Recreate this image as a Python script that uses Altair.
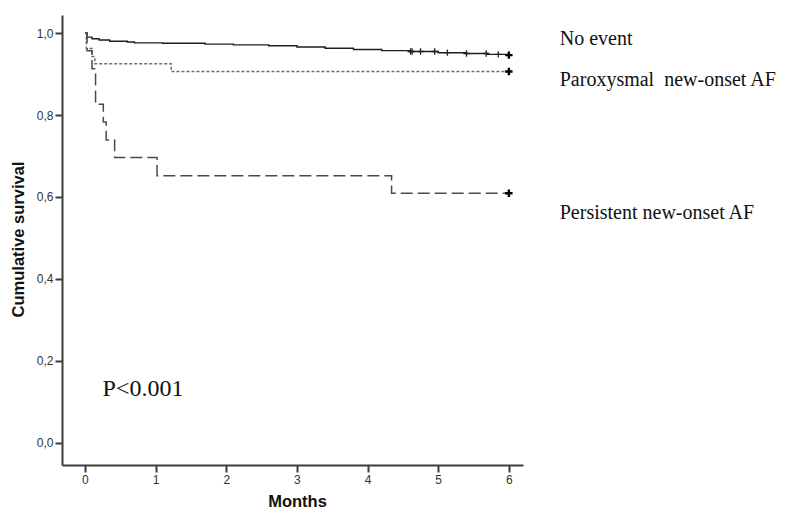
import altair as alt
import pandas as pd

# ---- data ----
no_event_t = [0.0, 0.03, 0.10, 0.20, 0.35, 0.60, 0.70, 1.10, 1.70, 2.10, 2.60, 3.00, 3.40, 3.80, 4.20, 4.60, 5.00, 5.40, 5.70, 6.00]
no_event_s = [1.000, 0.990, 0.986, 0.983, 0.980, 0.978, 0.976, 0.975, 0.973, 0.971, 0.969, 0.966, 0.963, 0.960, 0.957, 0.955, 0.952, 0.950, 0.948, 0.946]
no_event_cens = [4.61, 4.63, 4.75, 4.95, 5.13, 5.40, 5.68, 5.85]

parox_t = [0.0, 0.02, 0.10, 0.14, 1.22, 6.00]
parox_s = [1.000, 0.962, 0.943, 0.925, 0.906, 0.906]

persist_t = [0.0, 0.03, 0.10, 0.15, 0.26, 0.30, 0.42, 1.02, 4.34, 6.00]
persist_s = [1.000, 0.957, 0.913, 0.826, 0.783, 0.739, 0.696, 0.652, 0.609, 0.609]

end_t = [6.0, 6.0, 6.0]
end_s = [0.946, 0.906, 0.609]

y_ticks = [0.0, 0.2, 0.4, 0.6, 0.8, 1.0]
x_ticks = [0, 1, 2, 3, 4, 5, 6]

labels = ["No event", "Paroxysmal\u00a0 new-onset AF", "Persistent new-onset AF"]
label_x = [6.72, 6.72, 6.72]
label_y = [0.971, 0.871, 0.546]
p_text = ["P<0.001"]
p_x = [0.25]
p_y = [0.115]


def interp_at(ts, ss, t):
    v = ss[0]
    for ti, si in zip(ts, ss):
        if ti <= t:
            v = si
    return v

df_no = pd.DataFrame({"t": no_event_t, "s": no_event_s})
df_par = pd.DataFrame({"t": parox_t, "s": parox_s})
df_per = pd.DataFrame({"t": persist_t, "s": persist_s})
df_cens = pd.DataFrame({"t": no_event_cens, "s": [interp_at(no_event_t, no_event_s, c) for c in no_event_cens]})
df_end = pd.DataFrame({"t": end_t, "s": end_s})
df_lab = pd.DataFrame({"label": labels, "x": label_x, "y": label_y})
df_p = pd.DataFrame({"label": p_text, "x": p_x, "y": p_y})

xs = alt.Scale(domain=[-0.325, 6.2], nice=False, zero=False)
ys = alt.Scale(domain=[-0.054, 1.044], nice=False, zero=False)

x_enc = alt.X("t:Q", scale=xs, axis=alt.Axis(
    values=x_ticks, title="Months", format="d",
    titleX=235, titleY=36, titleAlign="center", titleBaseline="middle"))
y_enc = alt.Y("s:Q", scale=ys, axis=alt.Axis(
    values=y_ticks, title="Cumulative survival",
    labelExpr="replace(format(datum.value, '.1f'), '.', ',')",
    titleX=-44, titleY=224, titleAlign="center", titleBaseline="middle", titleAngle=270))

line_no = alt.Chart(df_no).mark_line(interpolate="step-after", color="#1e1e1e", strokeWidth=1.4).encode(x=x_enc, y=y_enc)
line_par = alt.Chart(df_par).mark_line(interpolate="step-after", color="#6e6e6e", strokeWidth=1.5, strokeDash=[3, 2]).encode(x="t:Q", y="s:Q")
line_per = alt.Chart(df_per).mark_line(interpolate="step-after", color="#4a4a4a", strokeWidth=1.5, strokeDash=[12, 5]).encode(x="t:Q", y="s:Q")

plus = "M-1,0L1,0M0,-1L0,1"
cens = alt.Chart(df_cens).mark_point(shape=plus, filled=False, color="#222222", strokeWidth=1.3, size=40, opacity=1).encode(x="t:Q", y="s:Q")
ends = alt.Chart(df_end).mark_point(shape=plus, filled=False, color="#000000", strokeWidth=2.4, size=55, opacity=1).encode(x="t:Q", y="s:Q")

lab = alt.Chart(df_lab).mark_text(align="left", baseline="alphabetic", font="Liberation Serif", fontSize=20, color="#111111").encode(
    x="x:Q", y="y:Q", text="label:N")
ptxt = alt.Chart(df_p).mark_text(align="left", baseline="alphabetic", font="Liberation Serif", fontSize=24, color="#111111").encode(
    x="x:Q", y="y:Q", text="label:N")

chart = alt.layer(line_no, line_par, line_per, cens, ends, lab, ptxt).properties(
    width=461, height=450,
    autosize=alt.AutoSizeParams(type="none"),
    padding={"left": 54, "top": 7, "right": 259, "bottom": 44},
).configure_view(stroke=None).configure_axis(
    grid=False,
    domainColor="#3c3c3c", domainWidth=2,
    tickColor="#3c3c3c", tickWidth=2, tickSize=7,
    labelFont="Liberation Sans", labelFontSize=12, labelColor="#333333", labelPadding=2,
    titleFont="Liberation Sans", titleFontSize=16.5, titleFontWeight="bold", titleColor="#111111",
)

chart.save("out.html", embed_options={"renderer": "svg", "actions": False})
